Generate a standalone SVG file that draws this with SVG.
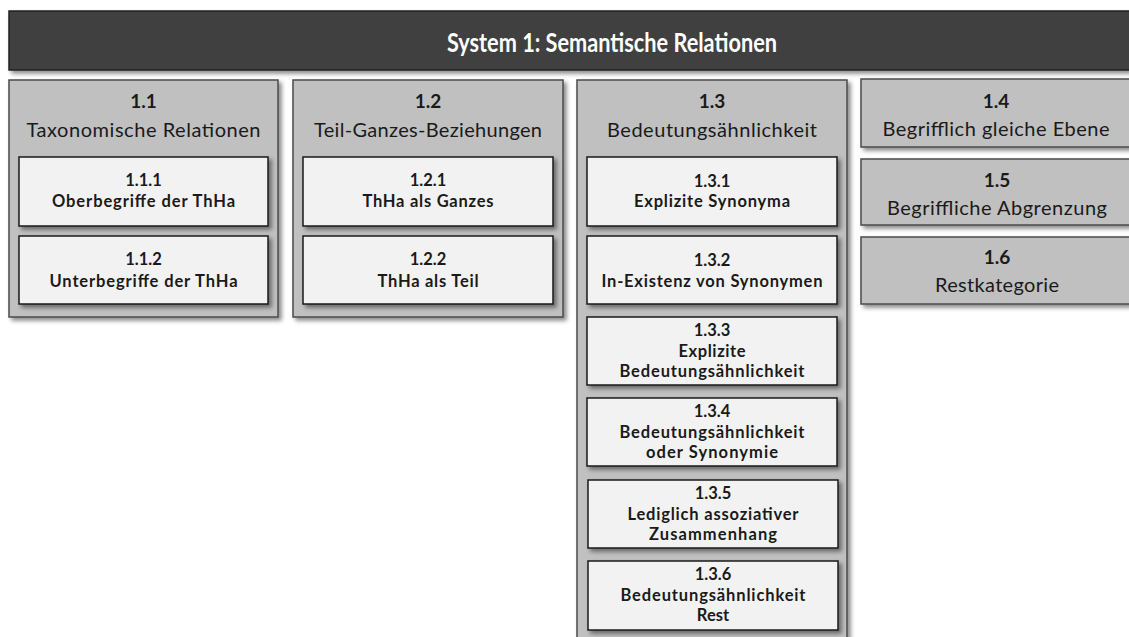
<svg xmlns="http://www.w3.org/2000/svg" width="1129" height="637" viewBox="0 0 1129 637">
  <defs>
    <filter id="shadow" x="-5%" y="-5%" width="115%" height="120%">
      <feDropShadow dx="3" dy="3" stdDeviation="2" flood-color="#000" flood-opacity="0.45"/>
    </filter>
  </defs>
  <style>
    text { font-family: Lato, "Open Sans", "Liberation Sans", sans-serif; text-anchor: middle; fill: #1a1a1a; }
    .title-bar { fill: #404040; stroke: #1f1f1f; stroke-width: 1.5; filter: url(#shadow); }
    .title { fill: #ffffff; font-weight: bold; font-size: 27px; }
    .col { fill: #c0c0c0; stroke: #4a4a4a; stroke-width: 1.5; filter: url(#shadow); }
    .sub { fill: #f2f2f2; stroke: #1a1a1a; stroke-width: 1.5; filter: url(#shadow); }
    .num { font-weight: bold; font-size: 19px; }
    .head { font-size: 20px; }
    .lbl { font-weight: bold; font-size: 16.5px; }
  </style>
  <rect width="1129" height="637" fill="#ffffff"/>

  <g id="title">
    <rect class="title-bar" x="9" y="11" width="1135" height="59"/>
    <text class="title" x="612" y="52" textLength="330" lengthAdjust="spacingAndGlyphs">System 1: Semantische Relationen</text>
  </g>

  <!-- 1.1 -->
  <g id="n1_1">
    <rect class="col" x="9" y="80" width="269" height="237"/>
    <text class="num" x="143.5" y="108">1.1</text>
    <text class="head" x="143.5" y="137" textLength="234" lengthAdjust="spacing">Taxonomische Relationen</text>
  </g>
  <g id="n1_1_1">
    <rect class="sub" x="19" y="157" width="249" height="69"/>
    <text class="lbl" x="143.5" y="186">1.1.1</text>
    <text class="lbl" x="143.5" y="207" textLength="183" lengthAdjust="spacing">Oberbegriffe der ThHa</text>
  </g>
  <g id="n1_1_2">
    <rect class="sub" x="19" y="236" width="249" height="68"/>
    <text class="lbl" x="143.5" y="265">1.1.2</text>
    <text class="lbl" x="143.5" y="287" textLength="188" lengthAdjust="spacing">Unterbegriffe der ThHa</text>
  </g>

  <!-- 1.2 -->
  <g id="n1_2">
    <rect class="col" x="293" y="80" width="270" height="237"/>
    <text class="num" x="428" y="108">1.2</text>
    <text class="head" x="428" y="137" textLength="228" lengthAdjust="spacing">Teil-Ganzes-Beziehungen</text>
  </g>
  <g id="n1_2_1">
    <rect class="sub" x="303" y="157" width="250" height="69"/>
    <text class="lbl" x="428" y="186">1.2.1</text>
    <text class="lbl" x="428" y="207" textLength="131" lengthAdjust="spacing">ThHa als Ganzes</text>
  </g>
  <g id="n1_2_2">
    <rect class="sub" x="303" y="236" width="250" height="68"/>
    <text class="lbl" x="428" y="265">1.2.2</text>
    <text class="lbl" x="428" y="287" textLength="101" lengthAdjust="spacing">ThHa als Teil</text>
  </g>

  <!-- 1.3 -->
  <g id="n1_3">
    <rect class="col" x="577" y="80" width="270" height="580"/>
    <text class="num" x="712" y="108">1.3</text>
    <text class="head" x="712" y="137" textLength="210" lengthAdjust="spacing">Bedeutungsähnlichkeit</text>
  </g>
  <g id="n1_3_1">
    <rect class="sub" x="587" y="157" width="250" height="69"/>
    <text class="lbl" x="712" y="187">1.3.1</text>
    <text class="lbl" x="712" y="207" textLength="156" lengthAdjust="spacing">Explizite Synonyma</text>
  </g>
  <g id="n1_3_2">
    <rect class="sub" x="587" y="236" width="250" height="68"/>
    <text class="lbl" x="712" y="266">1.3.2</text>
    <text class="lbl" x="712" y="287" textLength="221" lengthAdjust="spacing">In-Existenz von Synonymen</text>
  </g>
  <g id="n1_3_3">
    <rect class="sub" x="587" y="317" width="250" height="68"/>
    <text class="lbl" x="712" y="336">1.3.3</text>
    <text class="lbl" x="712" y="357" textLength="67" lengthAdjust="spacing">Explizite</text>
    <text class="lbl" x="712" y="377" textLength="185" lengthAdjust="spacing">Bedeutungsähnlichkeit</text>
  </g>
  <g id="n1_3_4">
    <rect class="sub" x="587" y="398" width="250" height="68"/>
    <text class="lbl" x="712" y="417">1.3.4</text>
    <text class="lbl" x="712" y="438" textLength="185" lengthAdjust="spacing">Bedeutungsähnlichkeit</text>
    <text class="lbl" x="712" y="458" textLength="132" lengthAdjust="spacing">oder Synonymie</text>
  </g>
  <g id="n1_3_5">
    <rect class="sub" x="588" y="480" width="250" height="68"/>
    <text class="lbl" x="713" y="499">1.3.5</text>
    <text class="lbl" x="713" y="520" textLength="171" lengthAdjust="spacing">Lediglich assoziativer</text>
    <text class="lbl" x="713" y="540" textLength="128" lengthAdjust="spacing">Zusammenhang</text>
  </g>
  <g id="n1_3_6">
    <rect class="sub" x="588" y="561" width="250" height="69"/>
    <text class="lbl" x="713" y="580">1.3.6</text>
    <text class="lbl" x="713" y="601" textLength="185" lengthAdjust="spacing">Bedeutungsähnlichkeit</text>
    <text class="lbl" x="713" y="621">Rest</text>
  </g>

  <!-- 1.4 – 1.6 -->
  <g id="n1_4">
    <rect class="col" x="861" y="79" width="272" height="68"/>
    <text class="num" x="996" y="108">1.4</text>
    <text class="head" x="996" y="136" textLength="227" lengthAdjust="spacing">Begrifflich gleiche Ebene</text>
  </g>
  <g id="n1_5">
    <rect class="col" x="861" y="159" width="272" height="66"/>
    <text class="num" x="997" y="187">1.5</text>
    <text class="head" x="997" y="215" textLength="220" lengthAdjust="spacing">Begriffliche Abgrenzung</text>
  </g>
  <g id="n1_6">
    <rect class="col" x="861" y="237" width="272" height="67"/>
    <text class="num" x="997" y="264">1.6</text>
    <text class="head" x="997" y="292" textLength="124" lengthAdjust="spacing">Restkategorie</text>
  </g>

  <g id="connectors"/>
</svg>
